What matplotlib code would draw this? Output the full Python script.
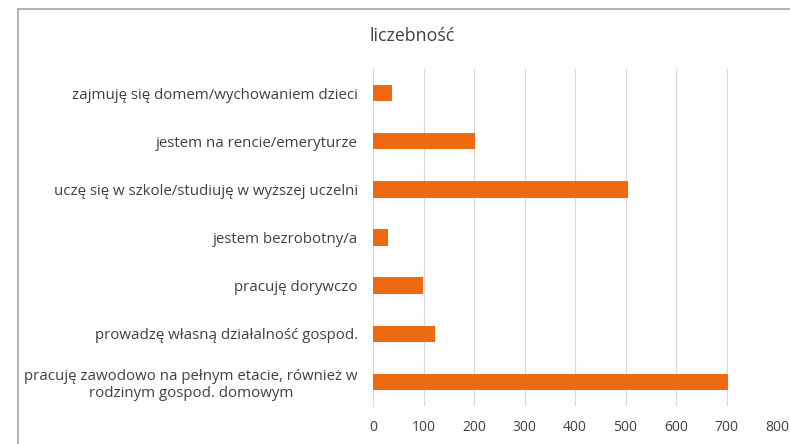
import matplotlib.pyplot as plt
from matplotlib.patches import Rectangle

# dane
kategorie = [
    "zajmuję się domem/wychowaniem dzieci",
    "jestem na rencie/emeryturze",
    "uczę się w szkole/studiuję w wyższej uczelni",
    "jestem bezrobotny/a",
    "pracuję dorywczo",
    "prowadzę własną działalność gospod.",
    "pracuję zawodowo na pełnym etacie, również w\nrodzinym gospod. domowym",
]
liczebnosc = [38, 202, 505, 29, 99, 123, 703]
ticki = [0, 100, 200, 300, 400, 500, 600, 700, 800]

plt.rcParams['font.family'] = ['Open Sans', 'DejaVu Sans']

fig = plt.figure(figsize=(7.9, 4.44), dpi=100)
ax = fig.add_axes([373 / 790, 1 - 406 / 444, 404 / 790, 337 / 444])

pozycje = list(range(len(kategorie)))[::-1]
ax.barh(pozycje, liczebnosc, height=0.34, color='#EE6A10', zorder=3)

ax.set_xlim(0, 800)
ax.set_ylim(-0.5, len(kategorie) - 0.5)
ax.set_xticks(ticki)
ax.set_xticklabels([str(t) for t in ticki])
ax.set_yticks(pozycje)
ax.set_yticklabels(kategorie, ha='right', multialignment='center')
ax.tick_params(axis='y', length=0, pad=11, labelsize=10.8, colors='#404040')
ax.tick_params(axis='x', length=0, pad=10, labelsize=10, colors='#404040')

ax.grid(axis='x', color='#D9D9D9', linewidth=0.8, zorder=0)
for s in ['top', 'right', 'bottom']:
    ax.spines[s].set_visible(False)
ax.spines['left'].set_color('#D9D9D9')

fig.text(412 / 790, 1 - 36 / 444, 'liczebność', ha='center', va='center',
         fontsize=12.8, color='#404040')

# ramka obszaru wykresu
fig.patches.append(Rectangle((18 / 790, -0.1), 1.2, 1 - 9 / 444 + 0.1,
                             transform=fig.transFigure, fill=False,
                             edgecolor='#A6A6A6', linewidth=1.2))

fig.savefig('out.png', dpi=100)
